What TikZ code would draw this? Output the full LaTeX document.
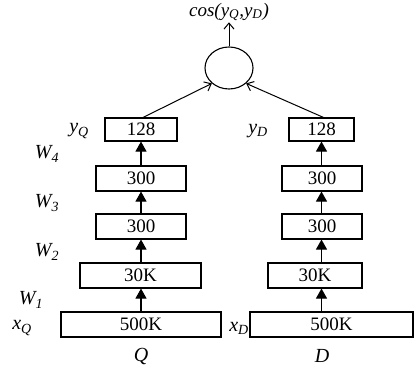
\documentclass[tikz,border=0pt]{standalone}
\usepackage{fontspec}
\setmainfont{Liberation Serif}
\usetikzlibrary{arrows.meta,shapes.geometric}
\begin{document}
\begin{tikzpicture}[x=1pt,y=-1pt,
  font=\fontsize{19}{21}\selectfont,
  layer/.style={draw,line width=1.1pt,inner sep=0pt,minimum height=25pt},
  lbl/.style={inner sep=0pt,font=\fontsize{20}{22}\selectfont\itshape},
  up/.style={line width=1.1pt,-{Triangle[width=11pt,length=10pt]}},
  open/.style={line width=1pt,-{Straight Barb[width=10pt,length=6pt]}}]
\useasboundingbox (0,0) rectangle (414,374);
% left tower
\node[layer,minimum width=72pt,minimum height=23pt] (q128) at (141,129.5) {128};
\node[layer,minimum width=90pt] (q300b) at (141,178.5) {300};
\node[layer,minimum width=90pt] (q300a) at (141,226.5) {300};
\node[layer,minimum width=121pt] (q30k) at (140.5,275.5) {30K};
\node[layer,minimum width=160pt] (q500) at (141,324.5) {500K};
% right tower
\node[layer,minimum width=65pt,minimum height=23pt] (d128) at (321.5,129.5) {128};
\node[layer,minimum width=80pt] (d300b) at (322,178.5) {300};
\node[layer,minimum width=80pt] (d300a) at (322,226.5) {300};
\node[layer,minimum width=94pt] (d30k) at (315,275.5) {30K};
\node[layer,minimum width=163pt] (d500) at (331.5,324.5) {500K};
% circle
\node[ellipse,draw,line width=1.1pt,minimum width=48pt,minimum height=42pt,inner sep=0pt] (cs) at (229,68) {};
\node[inner sep=0pt,font=\fontsize{19}{21}\selectfont\itshape] (cos) at (229,12) {cos(y\textsubscript{Q},y\textsubscript{D})};
% labels
\node[lbl] (yq) at (79,131) {y\textsubscript{Q}};
\node[lbl] (yd) at (258,131) {y\textsubscript{D}};
\node[lbl] (w4) at (47,154) {W\textsubscript{4}};
\node[lbl] (w3) at (47,203) {W\textsubscript{3}};
\node[lbl] (w2) at (47,252) {W\textsubscript{2}};
\node[lbl] (w1) at (31,300) {W\textsubscript{1}};
\node[lbl] (xq) at (22,328) {x\textsubscript{Q}};
\node[lbl] (xd) at (239,328) {x\textsubscript{D}};
\node[lbl] (q) at (141,356) {Q};
\node[lbl] (d) at (322,356) {D};
% left arrows
\draw[up] (q500.north -| q128.south) -- (q30k.south -| q128.south);
\draw[up] (q30k.north -| q128.south) -- (q300a.south -| q128.south);
\draw[up] (q300a.north) -- (q300b.south);
\draw[up] (q300b.north) -- (q128.south);
% right arrows
\draw[up] (d500.north -| d128.south) -- (d30k.south -| d128.south);
\draw[up] (d30k.north -| d128.south) -- (d300a.south -| d128.south);
\draw[up] (d300a.north -| d128.south) -- (d300b.south -| d128.south);
\draw[up] (d300b.north -| d128.south) -- (d128.south);
% to circle
\draw[open] ([xshift=2pt]q128.north) -- (cs.-138);
\draw[open] ([xshift=2pt]d128.north) -- (cs.-42);
\draw[open] (cs.north) -- ([yshift=-1pt]cos.south);
\end{tikzpicture}
\end{document}
